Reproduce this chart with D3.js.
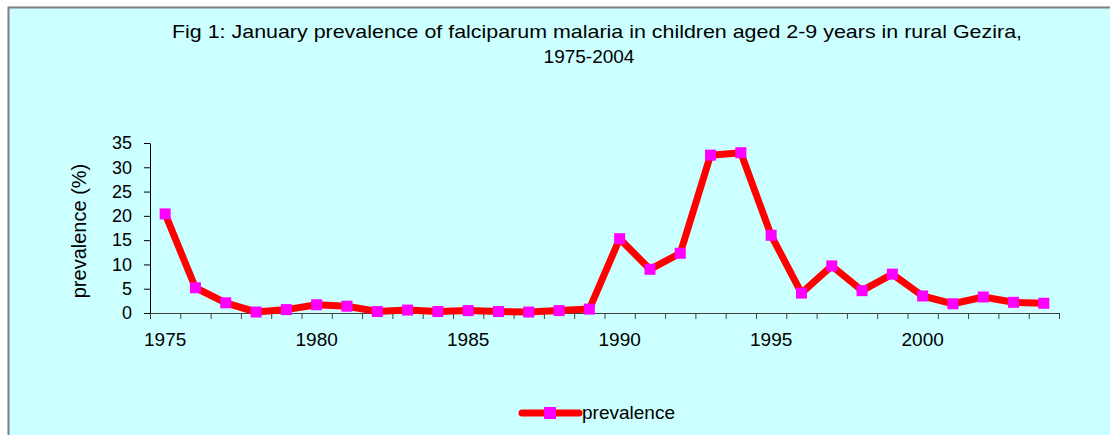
<!DOCTYPE html>
<html>
<head>
<meta charset="utf-8">
<script src="https://cdn.jsdelivr.net/npm/d3@7"></script>
<style>
  body { margin: 0; background: #ffffff; }
  text { font-family: "Liberation Sans", Arial, sans-serif; fill: #000; }
</style>
</head>
<body>
<svg id="chart-area"></svg>
<script>
// years on the category axis
var years = d3.range(1975, 2005);
// January prevalence (%)
var prevalence = [20.4, 5.2, 2.1, 0.2, 0.7, 1.7, 1.4, 0.3, 0.6, 0.3,
                  0.5, 0.3, 0.2, 0.5, 0.8, 15.3, 9.0, 12.3, 32.5, 33.0,
                  16.0, 4.1, 9.7, 4.6, 8.0, 3.5, 1.9, 3.3, 2.2, 2.0];
var yTicks = [0, 5, 10, 15, 20, 25, 30, 35];
var xLabels = [1975, 1980, 1985, 1990, 1995, 2000];
var titleLines = ["Fig 1: January prevalence of falciparum malaria in children aged 2-9 years in rural Gezira,",
                  "1975-2004"];
var seriesName = "prevalence";

var chart = {
  width: 1110, height: 435,
  plot: { left: 150, right: 1059, top: 143, bottom: 313 },
  scale: { x: '', y: '' }
};

var svg = d3.select("#chart-area")
    .attr("width", chart.width)
    .attr("height", chart.height);

// chart frame
svg.append("rect")
    .attr("x", 8.5).attr("y", 7.5)
    .attr("width", 1200).attr("height", 500)
    .attr("fill", "#ccffff")
    .attr("stroke", "#7f7f7f")
    .attr("stroke-width", 2);

// title (first line is stretched a little, like the source)
svg.append("g").selectAll("text")
    .data(titleLines)
  .enter().append("text")
    .attr("x", function(d, i){ return i == 0 ? 597 : 589; })
    .attr("y", function(d, i){ return 38 + i * 25; })
    .attr("text-anchor", "middle")
    .attr("font-size", "19px")
    .attr("textLength", function(d, i){ return i == 0 ? 850 : null; })
    .attr("lengthAdjust", "spacingAndGlyphs")
    .text(function(d){ return d; });

// scales
chart.scale.x = d3.scaleBand()
    .domain(years)
    .range([chart.plot.left, chart.plot.right]);

chart.scale.y = d3.scaleLinear()
    .domain([0, 35])
    .range([chart.plot.bottom, chart.plot.top]);

var edges = d3.scaleLinear()
    .domain([0, years.length])
    .range([chart.plot.left, chart.plot.right]);

// y axis
var yAxis = svg.append("g")
    .attr("transform", "translate(" + chart.plot.left + ",0)")
    .call(d3.axisLeft(chart.scale.y).tickValues(yTicks).tickSize(6).tickSizeOuter(0).tickPadding(12));
yAxis.select(".domain").attr("stroke", "#000");
yAxis.selectAll("text").attr("font-size", "18px").attr("font-family", null);

// x axis tick marks sit on the category edges
var xTicks = svg.append("g")
    .attr("transform", "translate(0," + chart.plot.bottom + ")")
    .call(d3.axisBottom(edges).ticks(years.length).tickSize(6).tickSizeOuter(0).tickFormat(""));
xTicks.selectAll("line, path").attr("stroke", "#404040");

// x axis labels centred on categories
var xAxis = svg.append("g")
    .attr("transform", "translate(0," + chart.plot.bottom + ")")
    .call(d3.axisBottom(chart.scale.x).tickValues(xLabels).tickSize(0).tickPadding(20));
xAxis.select(".domain").remove();
xAxis.selectAll("text").attr("font-size", "19px").attr("font-family", null);

// y label
svg.append("text")
    .attr("transform", "translate(86," + ((chart.plot.top + chart.plot.bottom) / 2 + 3) + ") rotate(-90)")
    .attr("text-anchor", "middle")
    .attr("font-size", "20px")
    .text("prevalence (%)");

var cx = function(d, i){ return chart.scale.x(years[i]) + chart.scale.x.bandwidth() / 2; };

// line
svg.append("path")
    .datum(prevalence)
    .attr("fill", "none")
    .attr("stroke", "#ff0000")
    .attr("stroke-width", 7)
    .attr("stroke-linejoin", "round")
    .attr("d", d3.line().x(cx).y(function(d){ return chart.scale.y(d); }));

// markers
svg.append("g").selectAll("rect")
    .data(prevalence)
  .enter().append("rect")
    .attr("x", function(d, i){ return cx(d, i) - 5.5; })
    .attr("y", function(d){ return chart.scale.y(d) - 5.5; })
    .attr("width", 11)
    .attr("height", 11)
    .attr("fill", "#ff00ff");

// legend
var legend = svg.append("g").attr("transform", "translate(522,413)");
legend.append("line")
    .attr("x1", 0).attr("x2", 57)
    .attr("stroke", "#ff0000")
    .attr("stroke-width", 7)
    .attr("stroke-linecap", "round");
legend.append("rect")
    .attr("x", 22).attr("y", -6)
    .attr("width", 12).attr("height", 12)
    .attr("fill", "#ff00ff");
legend.append("text")
    .attr("x", 60).attr("y", 6)
    .attr("font-size", "19px")
    .text(seriesName);
</script>
</body>
</html>
